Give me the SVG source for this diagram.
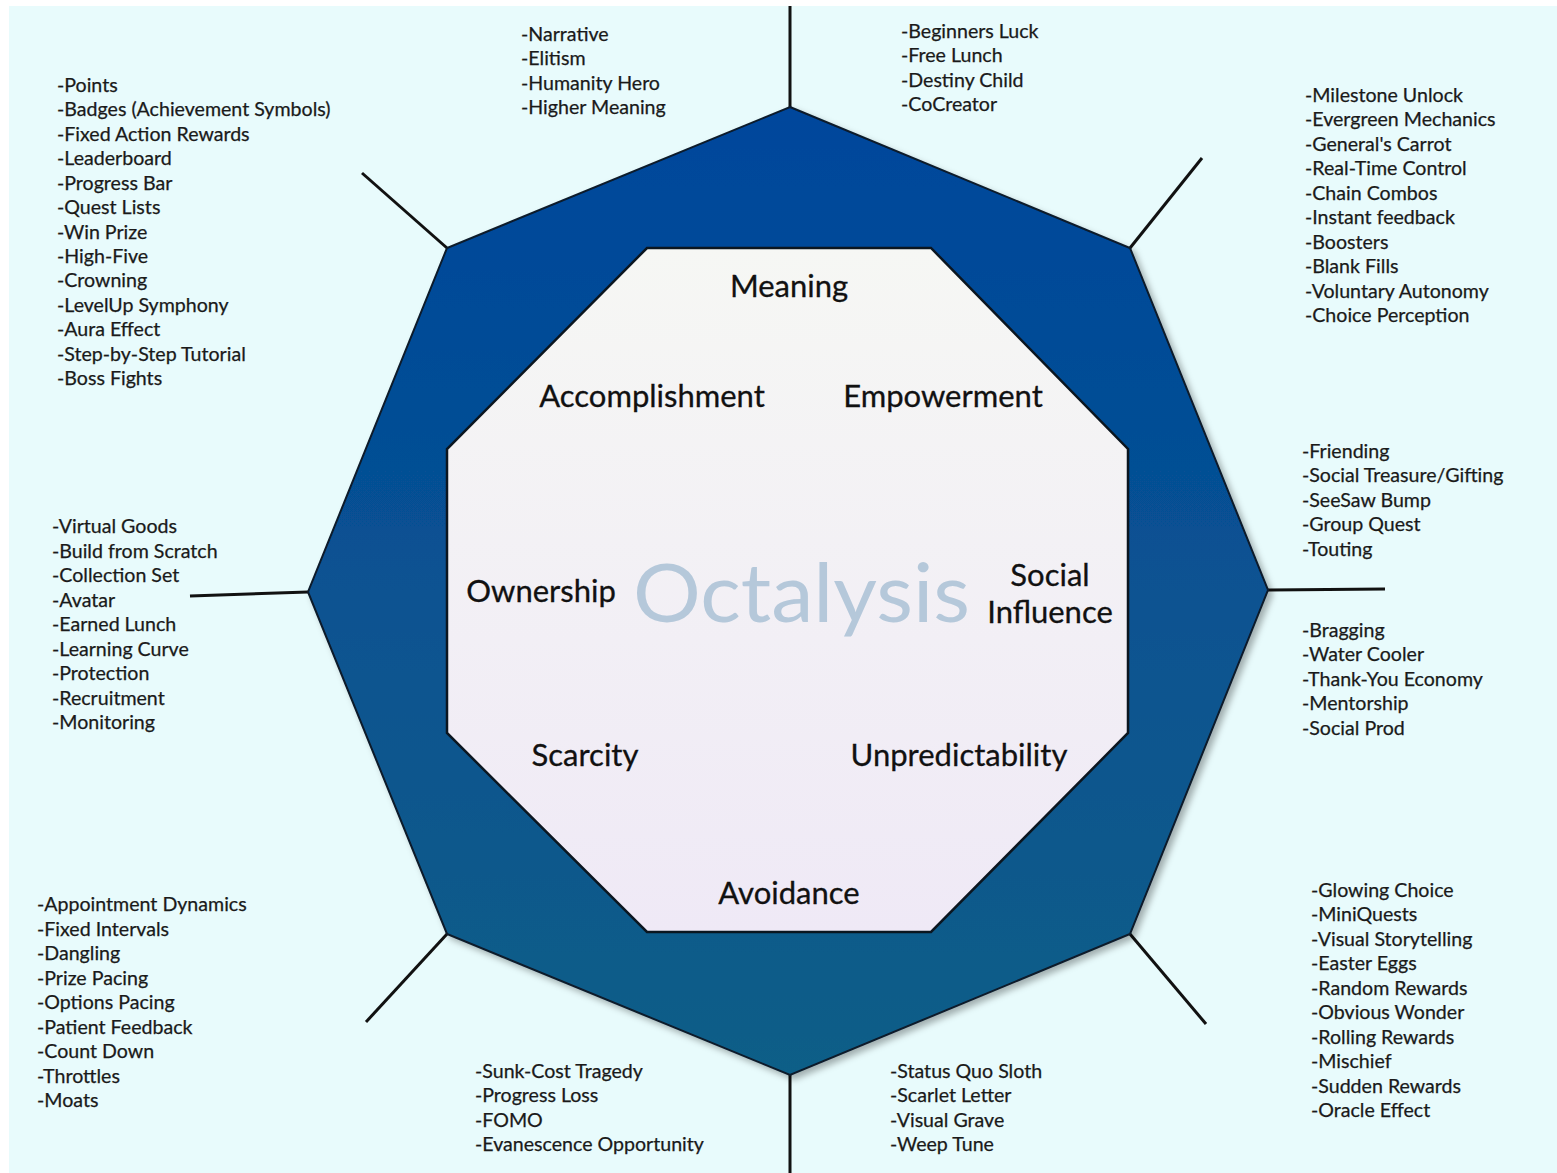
<svg xmlns="http://www.w3.org/2000/svg" width="1557" height="1173" viewBox="0 0 1557 1173">
  <defs>
    <linearGradient id="outerGrad" x1="0" y1="0" x2="0" y2="1">
      <stop offset="0" stop-color="#00469c"/>
      <stop offset="1" stop-color="#105e87"/>
    </linearGradient>
    <linearGradient id="innerGrad" x1="0" y1="0" x2="0" y2="1">
      <stop offset="0" stop-color="#f6f7f4"/>
      <stop offset="1" stop-color="#efe9f6"/>
    </linearGradient>
    <filter id="shadow" x="-10%" y="-10%" width="120%" height="120%">
      <feDropShadow dx="4" dy="4" stdDeviation="3" flood-color="#000" flood-opacity="0.3"/>
    </filter>
    <style>
      .list { font-family: Lato, "Liberation Sans", sans-serif; font-size: 19.6px; fill: #1a1a1a; stroke: #1a1a1a; stroke-width: 0.25px; }
      .core { font-family: Lato, "Liberation Sans", sans-serif; font-size: 31px; fill: #111; text-anchor: middle; stroke: #111; stroke-width: 0.3px; }
      .title { font-family: Lato, "Liberation Sans", sans-serif; font-size: 82px; fill: #b5c8da; }
      .conn { stroke: #111; stroke-width: 3; fill: none; }
    </style>
  </defs>

  <rect x="0" y="0" width="1557" height="1173" fill="#ffffff"/>
  <rect x="9" y="6" width="1548" height="1167" fill="#e8fbfc"/>

  <g id="connectors">
    <line class="conn" x1="790" y1="107" x2="790" y2="6"/>
    <line class="conn" x1="447" y1="248" x2="362" y2="173"/>
    <line class="conn" x1="1130" y1="248" x2="1202" y2="158"/>
    <line class="conn" x1="1268" y1="590" x2="1385" y2="589"/>
    <line class="conn" x1="308" y1="592" x2="190" y2="596"/>
    <line class="conn" x1="447" y1="934" x2="366" y2="1022"/>
    <line class="conn" x1="1130" y1="934" x2="1206" y2="1024"/>
    <line class="conn" x1="790" y1="1075" x2="790" y2="1173"/>
  </g>

  <g id="outer-octagon">
    <polygon points="790,107 1130,248 1268,590 1130,934 790,1075 447,934 308,592 447,248" fill="url(#outerGrad)" stroke="#0a1a2a" stroke-width="2" filter="url(#shadow)"/>
  </g>

  <g id="inner-octagon">
    <polygon points="647,248 931,248 1128,449 1128,733 931,932 647,932 447,733 447,449" fill="url(#innerGrad)" stroke="#0b1620" stroke-width="2.5"/>
    <text class="title" x="633" y="622" textLength="337" lengthAdjust="spacingAndGlyphs">Octalysis</text>
  </g>

  <g id="core-meaning"><text class="core" x="789" y="297">Meaning</text></g>
  <g id="core-accomplishment"><text class="core" x="652" y="407">Accomplishment</text></g>
  <g id="core-empowerment"><text class="core" x="943" y="407">Empowerment</text></g>
  <g id="core-ownership"><text class="core" x="541" y="602">Ownership</text></g>
  <g id="core-social"><text class="core" x="1050" y="586">Social</text><text class="core" x="1050" y="623">Influence</text></g>
  <g id="core-scarcity"><text class="core" x="585" y="766">Scarcity</text></g>
  <g id="core-unpredictability"><text class="core" x="959" y="766">Unpredictability</text></g>
  <g id="core-avoidance"><text class="core" x="789" y="904">Avoidance</text></g>

  <g id="list-accomplishment">
    <text class="list" x="57" y="92">
      <tspan x="57">-Points</tspan>
      <tspan x="57" dy="24.42">-Badges (Achievement Symbols)</tspan>
      <tspan x="57" dy="24.42">-Fixed Action Rewards</tspan>
      <tspan x="57" dy="24.42">-Leaderboard</tspan>
      <tspan x="57" dy="24.42">-Progress Bar</tspan>
      <tspan x="57" dy="24.42">-Quest Lists</tspan>
      <tspan x="57" dy="24.42">-Win Prize</tspan>
      <tspan x="57" dy="24.42">-High-Five</tspan>
      <tspan x="57" dy="24.42">-Crowning</tspan>
      <tspan x="57" dy="24.42">-LevelUp Symphony</tspan>
      <tspan x="57" dy="24.42">-Aura Effect</tspan>
      <tspan x="57" dy="24.42">-Step-by-Step Tutorial</tspan>
      <tspan x="57" dy="24.42">-Boss Fights</tspan>
    </text>
  </g>

  <g id="list-meaning">
    <text class="list" x="521" y="41">
      <tspan x="521">-Narrative</tspan>
      <tspan x="521" dy="24.45">-Elitism</tspan>
      <tspan x="521" dy="24.45">-Humanity Hero</tspan>
      <tspan x="521" dy="24.45">-Higher Meaning</tspan>
    </text>
  </g>

  <g id="list-meaning-empowerment">
    <text class="list" x="901" y="38">
      <tspan x="901">-Beginners Luck</tspan>
      <tspan x="901" dy="24.45">-Free Lunch</tspan>
      <tspan x="901" dy="24.45">-Destiny Child</tspan>
      <tspan x="901" dy="24.45">-CoCreator</tspan>
    </text>
  </g>

  <g id="list-empowerment">
    <text class="list" x="1305" y="102">
      <tspan x="1305">-Milestone Unlock</tspan>
      <tspan x="1305" dy="24.44">-Evergreen Mechanics</tspan>
      <tspan x="1305" dy="24.44">-General's Carrot</tspan>
      <tspan x="1305" dy="24.44">-Real-Time Control</tspan>
      <tspan x="1305" dy="24.44">-Chain Combos</tspan>
      <tspan x="1305" dy="24.44">-Instant feedback</tspan>
      <tspan x="1305" dy="24.44">-Boosters</tspan>
      <tspan x="1305" dy="24.44">-Blank Fills</tspan>
      <tspan x="1305" dy="24.44">-Voluntary Autonomy</tspan>
      <tspan x="1305" dy="24.44">-Choice Perception</tspan>
    </text>
  </g>

  <g id="list-social-upper">
    <text class="list" x="1302" y="458">
      <tspan x="1302">-Friending</tspan>
      <tspan x="1302" dy="24.45">-Social Treasure/Gifting</tspan>
      <tspan x="1302" dy="24.45">-SeeSaw Bump</tspan>
      <tspan x="1302" dy="24.45">-Group Quest</tspan>
      <tspan x="1302" dy="24.45">-Touting</tspan>
    </text>
  </g>

  <g id="list-social-lower">
    <text class="list" x="1302" y="637">
      <tspan x="1302">-Bragging</tspan>
      <tspan x="1302" dy="24.45">-Water Cooler</tspan>
      <tspan x="1302" dy="24.45">-Thank-You Economy</tspan>
      <tspan x="1302" dy="24.45">-Mentorship</tspan>
      <tspan x="1302" dy="24.45">-Social Prod</tspan>
    </text>
  </g>

  <g id="list-unpredictability">
    <text class="list" x="1311" y="897">
      <tspan x="1311">-Glowing Choice</tspan>
      <tspan x="1311" dy="24.44">-MiniQuests</tspan>
      <tspan x="1311" dy="24.44">-Visual Storytelling</tspan>
      <tspan x="1311" dy="24.44">-Easter Eggs</tspan>
      <tspan x="1311" dy="24.44">-Random Rewards</tspan>
      <tspan x="1311" dy="24.44">-Obvious Wonder</tspan>
      <tspan x="1311" dy="24.44">-Rolling Rewards</tspan>
      <tspan x="1311" dy="24.44">-Mischief</tspan>
      <tspan x="1311" dy="24.44">-Sudden Rewards</tspan>
      <tspan x="1311" dy="24.44">-Oracle Effect</tspan>
    </text>
  </g>

  <g id="list-avoidance-right">
    <text class="list" x="890" y="1078">
      <tspan x="890">-Status Quo Sloth</tspan>
      <tspan x="890" dy="24.45">-Scarlet Letter</tspan>
      <tspan x="890" dy="24.45">-Visual Grave</tspan>
      <tspan x="890" dy="24.45">-Weep Tune</tspan>
    </text>
  </g>

  <g id="list-avoidance-left">
    <text class="list" x="475" y="1078">
      <tspan x="475">-Sunk-Cost Tragedy</tspan>
      <tspan x="475" dy="24.45">-Progress Loss</tspan>
      <tspan x="475" dy="24.45">-FOMO</tspan>
      <tspan x="475" dy="24.45">-Evanescence Opportunity</tspan>
    </text>
  </g>

  <g id="list-scarcity">
    <text class="list" x="37" y="911">
      <tspan x="37">-Appointment Dynamics</tspan>
      <tspan x="37" dy="24.5">-Fixed Intervals</tspan>
      <tspan x="37" dy="24.5">-Dangling</tspan>
      <tspan x="37" dy="24.5">-Prize Pacing</tspan>
      <tspan x="37" dy="24.5">-Options Pacing</tspan>
      <tspan x="37" dy="24.5">-Patient Feedback</tspan>
      <tspan x="37" dy="24.5">-Count Down</tspan>
      <tspan x="37" dy="24.5">-Throttles</tspan>
      <tspan x="37" dy="24.5">-Moats</tspan>
    </text>
  </g>

  <g id="list-ownership">
    <text class="list" x="52" y="533">
      <tspan x="52">-Virtual Goods</tspan>
      <tspan x="52" dy="24.5">-Build from Scratch</tspan>
      <tspan x="52" dy="24.5">-Collection Set</tspan>
      <tspan x="52" dy="24.5">-Avatar</tspan>
      <tspan x="52" dy="24.5">-Earned Lunch</tspan>
      <tspan x="52" dy="24.5">-Learning Curve</tspan>
      <tspan x="52" dy="24.5">-Protection</tspan>
      <tspan x="52" dy="24.5">-Recruitment</tspan>
      <tspan x="52" dy="24.5">-Monitoring</tspan>
    </text>
  </g>
</svg>
